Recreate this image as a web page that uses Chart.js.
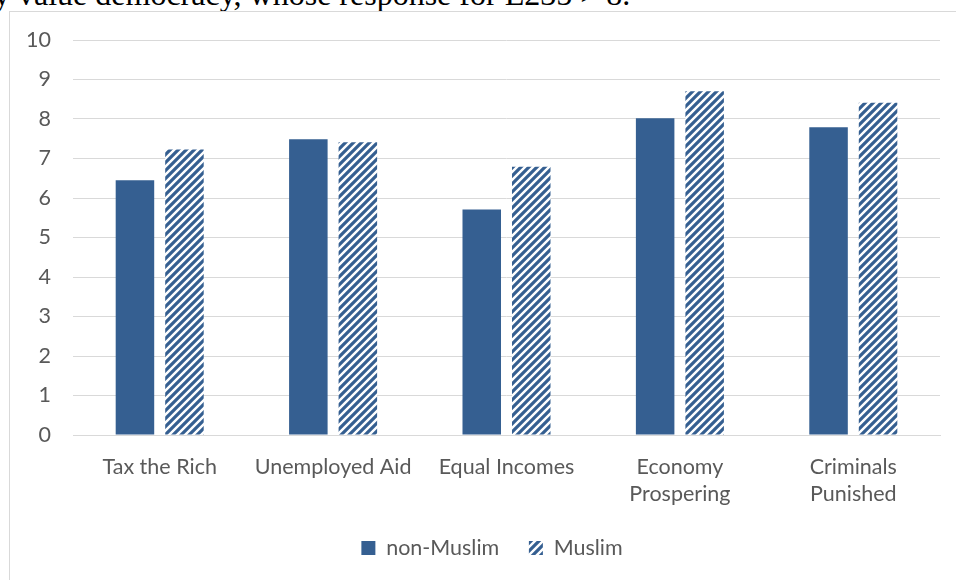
<!DOCTYPE html>
<html>
<head>
<meta charset="utf-8">
<script src="https://cdn.jsdelivr.net/npm/chart.js@4.4.0/dist/chart.umd.min.js"></script>
<style>
  html, body { margin: 0; padding: 0; background: #fff; overflow: hidden; }
  body { width: 956px; height: 580px; position: relative; }
  .caption {
    position: absolute; left: -6px; top: -22px; white-space: nowrap;
    font-family: "Liberation Serif", "Times New Roman", serif; font-size: 32px; line-height: 32px; color: #000;
  }
  .frame {
    position: absolute; left: 9px; top: 11px; width: 980px; height: 600px;
    border: 1px solid #d9d9d9; box-sizing: border-box;
  }
  .wrap { position: absolute; left: 0; top: 0; width: 956px; height: 580px; }
</style>
</head>
<body>
<div class="caption">y value democracy, whose response for E235 &gt; 8.</div>
<div class="frame"></div>
<div class="wrap"><canvas id="chart"></canvas></div>
<script>
// categories and values
const categories = ['Tax the Rich', 'Unemployed Aid', 'Equal Incomes', ['Economy', 'Prospering'], ['Criminals', 'Punished']];
const nonMuslim = [6.45, 7.49, 5.71, 8.02, 7.79];
const muslim = [7.23, 7.41, 6.79, 8.70, 8.41];
const yTicks = [0, 1, 2, 3, 4, 5, 6, 7, 8, 9, 10];

const blue = '#355f91';
const textGrey = '#595959';
const gridGrey = '#d9d9d9';

// wide upward diagonal hatch, like the office pattern fill
function makeHatch(color) {
    const c = document.createElement('canvas');
    c.width = 8;
    c.height = 8;
    const g = c.getContext('2d');
    g.fillStyle = '#ffffff';
    g.fillRect(0, 0, 8, 8);
    g.strokeStyle = color;
    g.lineWidth = 3.2;
    g.beginPath();
    g.moveTo(-2, 10); g.lineTo(10, -2);
    g.moveTo(-2, 2); g.lineTo(2, -2);
    g.moveTo(6, 10); g.lineTo(10, 6);
    g.stroke();
    return g.createPattern(c, 'repeat');
}

const font = { family: 'Lato', size: 21.5 };

new Chart(document.getElementById('chart'), {
    type: 'bar',
    data: {
        labels: categories,
        datasets: [
            {
                label: 'non-Muslim',
                data: nonMuslim,
                backgroundColor: blue,
                categoryPercentage: 0.571,
                barPercentage: 0.778
            },
            {
                label: 'Muslim',
                data: muslim,
                backgroundColor: makeHatch(blue),
                categoryPercentage: 0.571,
                barPercentage: 0.778
            }
        ]
    },
    options: {
        responsive: true,
        maintainAspectRatio: false,
        animation: false,
        layout: { padding: { left: 28, right: 0, top: 40, bottom: 11.3 } },
        plugins: {
            tooltip: { enabled: false },
            legend: {
                position: 'bottom',
                labels: {
                    font: font,
                    color: textGrey,
                    boxWidth: 14,
                    boxHeight: 14,
                    padding: 29.6
                }
            }
        },
        scales: {
            x: {
                grid: { display: false, drawTicks: false },
                border: { display: true, color: gridGrey, width: 1 },
                ticks: { font: { ...font, lineHeight: 1.27 }, color: textGrey, padding: 18, maxRotation: 0, autoSkip: false },
                afterFit: scale => {
                    scale.paddingLeft = 0;
                    scale.paddingRight = 16;
                    scale.height = 72.6;
                }
            },
            y: {
                min: 0,
                max: 10,
                afterBuildTicks: axis => { axis.ticks = yTicks.map(v => ({ value: v })); },
                grid: { color: gridGrey, lineWidth: 1, drawTicks: false },
                border: { display: false },
                ticks: { font: font, color: textGrey, padding: 22 },
                afterFit: axis => { axis.width = 45; }
            }
        }
    }
});
</script>
</body>
</html>
